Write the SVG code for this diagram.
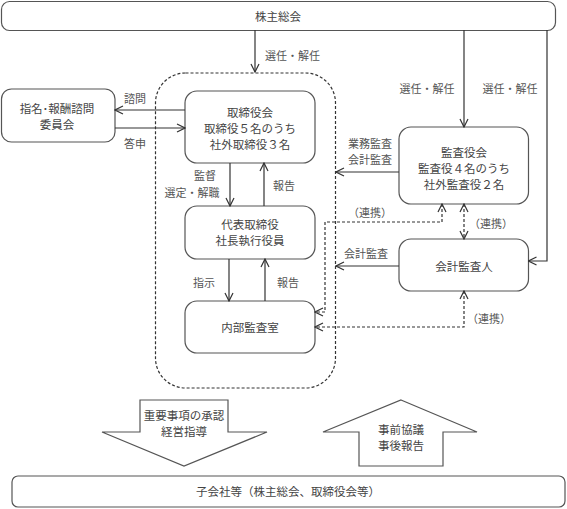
<svg xmlns="http://www.w3.org/2000/svg" width="567" height="509" viewBox="0 0 567 509">
<defs>
<marker id="ah" viewBox="0 0 10 10" refX="9" refY="5" markerWidth="10" markerHeight="10" markerUnits="userSpaceOnUse" orient="auto-start-reverse">
<path d="M1,1 L9,5 L1,9" fill="none" stroke="#333" stroke-width="1.2"/>
</marker>
<style>
.box{fill:#fff;stroke:#555;stroke-width:1.2}
.ln{fill:none;stroke:#333;stroke-width:1.2}
.dl{fill:none;stroke:#333;stroke-width:1.2;stroke-dasharray:3 2}
text{font-family:"Noto Sans CJK JP","Noto Sans CJK SC",sans-serif;font-size:11.5px;fill:#444;text-anchor:middle;dominant-baseline:central}
.lb{font-size:11px;fill:#555}
</style>
</defs>
<rect width="567" height="509" fill="#fff"/>
<g id="dashed-group">
<rect x="155.5" y="73" width="180" height="315" rx="30" class="dl"/>
</g>
<g id="shareholders">
<rect x="1.5" y="1.5" width="554" height="29" rx="8" class="box"/>
<text x="278" y="16">株主総会</text>
</g>
<g id="committee">
<rect x="1.5" y="89" width="113.5" height="53" rx="10" class="box"/>
<text x="57" y="108">指名･報酬諮問</text>
<text x="57" y="124">委員会</text>
</g>
<g id="board">
<rect x="185" y="91" width="130" height="72" rx="12" class="box"/>
<text x="250" y="112">取締役会</text>
<text x="250" y="128">取締役５名のうち</text>
<text x="250" y="144">社外取締役３名</text>
</g>
<g id="president">
<rect x="185" y="206" width="130" height="53" rx="12" class="box"/>
<text x="250" y="224">代表取締役</text>
<text x="250" y="240">社長執行役員</text>
</g>
<g id="internal-audit">
<rect x="185" y="301" width="130" height="52" rx="12" class="box"/>
<text x="250" y="327">内部監査室</text>
</g>
<g id="auditors">
<rect x="399" y="127" width="129.5" height="77" rx="12" class="box"/>
<text x="464" y="152">監査役会</text>
<text x="464" y="168">監査役４名のうち</text>
<text x="464" y="184">社外監査役２名</text>
</g>
<g id="accounting-auditor">
<rect x="399" y="239" width="129.5" height="52" rx="12" class="box"/>
<text x="464" y="266">会計監査人</text>
</g>
<g id="down-arrow">
<polygon points="140,400 228,400 228,432 267,432 184,466 102,432 140,432" class="box"/>
<text x="184" y="415">重要事項の承認</text>
<text x="184" y="431">経営指導</text>
</g>
<g id="up-arrow">
<polygon points="401,400 477,432 443,432 443,466 359,466 359,432 323,432" class="box"/>
<text x="401" y="429">事前協議</text>
<text x="401" y="445">事後報告</text>
</g>
<g id="subsidiaries">
<rect x="12" y="476" width="553" height="31" rx="6" class="box"/>
<text x="288" y="491">子会社等（株主総会、取締役会等）</text>
</g>
<g id="connectors">
<path d="M255,30 V72" class="ln" marker-end="url(#ah)"/>
<path d="M464,30 V127" class="ln" marker-end="url(#ah)"/>
<path d="M547,30 V261 H528.5" class="ln" marker-end="url(#ah)"/>
<path d="M185,110 H115" class="ln" marker-end="url(#ah)"/>
<path d="M115,128 H185" class="ln" marker-end="url(#ah)"/>
<path d="M230,163 V206" class="ln" marker-end="url(#ah)"/>
<path d="M264,206 V163" class="ln" marker-end="url(#ah)"/>
<path d="M229,259 V301" class="ln" marker-end="url(#ah)"/>
<path d="M265,301 V259" class="ln" marker-end="url(#ah)"/>
<path d="M399,172 H336" class="ln" marker-end="url(#ah)"/>
<path d="M399,266 H336" class="ln" marker-end="url(#ah)"/>
<path d="M464,204 V239" class="dl" marker-start="url(#ah)" marker-end="url(#ah)"/>
<path d="M442,204 V222 H325 V312 H315" class="dl" marker-start="url(#ah)" marker-end="url(#ah)"/>
<path d="M464,291 V327 H315" class="dl" marker-start="url(#ah)" marker-end="url(#ah)"/>
<text class="lb" x="265" y="55" style="text-anchor:start">選任・解任</text>
<text class="lb" x="427" y="88">選任・解任</text>
<text class="lb" x="510" y="88">選任・解任</text>
<text class="lb" x="135" y="98">諮問</text>
<text class="lb" x="135" y="143">答申</text>
<text class="lb" x="205" y="175">監督</text>
<text class="lb" x="192" y="191.5">選定・解職</text>
<text class="lb" x="284" y="185">報告</text>
<text class="lb" x="204" y="282">指示</text>
<text class="lb" x="288" y="282">報告</text>
<text class="lb" x="370" y="143">業務監査</text>
<text class="lb" x="370" y="159">会計監査</text>
<text class="lb" x="370" y="212">（連携）</text>
<text class="lb" x="491" y="223">（連携）</text>
<text class="lb" x="366" y="253">会計監査</text>
<text class="lb" x="489" y="318">（連携）</text>
</g>
</svg>
